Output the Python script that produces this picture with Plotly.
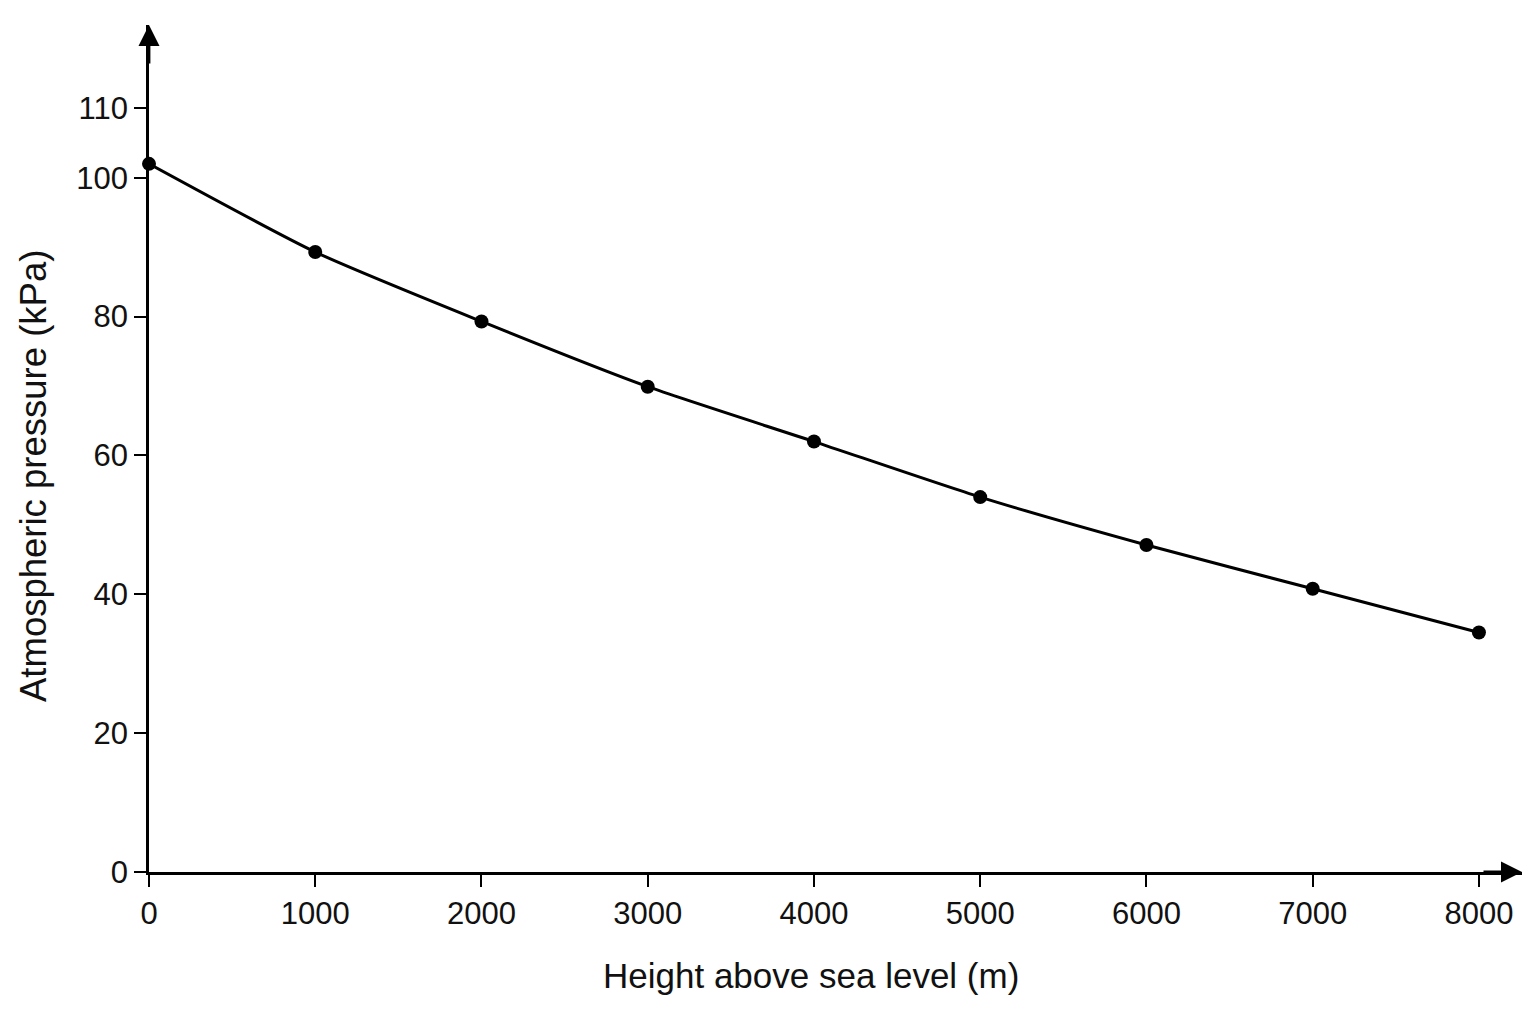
import plotly.graph_objects as go

# Atmospheric pressure vs altitude
heights = [0, 1000, 2000, 3000, 4000, 5000, 6000, 7000, 8000]
pressure_kpa = [102.0, 89.3, 79.3, 69.9, 62.0, 54.0, 47.1, 40.8, 34.5]

x_ticks = [0, 1000, 2000, 3000, 4000, 5000, 6000, 7000, 8000]
y_ticks = [0, 20, 40, 60, 80, 100, 110]

fig = go.Figure()

fig.add_trace(go.Scatter(
    x=heights, y=pressure_kpa,
    mode="lines+markers",
    line=dict(color="#000000", width=3, shape="spline", smoothing=0.6),
    marker=dict(size=14, color="#000000"),
    cliponaxis=False,
    showlegend=False,
))

axis_common = dict(
    showgrid=False, zeroline=False,
    showline=True, linecolor="#000000", linewidth=2.8,
    ticks="outside", ticklen=12, tickwidth=2.2, tickcolor="#000000",
    tickfont=dict(size=31, color="#111111"),
)

fig.update_xaxes(range=[0, 8259], tickvals=x_ticks, **axis_common)
fig.update_yaxes(range=[0, 122], tickvals=y_ticks, **axis_common)

# arrowheads on the axis ends
fig.add_annotation(x=1, y=0, xref="paper", yref="y", ax=-40, ay=0,
                   showarrow=True, arrowhead=2, arrowsize=1.5, arrowwidth=2.8,
                   arrowcolor="#000000", text="")
fig.add_annotation(x=0, y=1, xref="x", yref="paper", ax=0, ay=40,
                   showarrow=True, arrowhead=2, arrowsize=1.5, arrowwidth=2.8,
                   arrowcolor="#000000", text="")

# axis titles
fig.add_annotation(x=0.482, y=-0.122, xref="paper", yref="paper",
                   xanchor="center", yanchor="middle",
                   text="Height above sea level (m)", showarrow=False,
                   font=dict(size=35, color="#111111"))
fig.add_annotation(x=-0.0845, y=0.4675, xref="paper", yref="paper",
                   xanchor="center", yanchor="middle",
                   text="Atmospheric pressure (kPa)", showarrow=False, textangle=-90,
                   font=dict(size=36.5, color="#111111"))

fig.update_layout(
    width=1520, height=1008,
    margin=dict(l=141, r=6, t=17, b=144),
    paper_bgcolor="#ffffff", plot_bgcolor="#ffffff",
    font=dict(family="Liberation Sans, Arial, sans-serif", color="#111111"),
)

fig.write_html("out.html")
